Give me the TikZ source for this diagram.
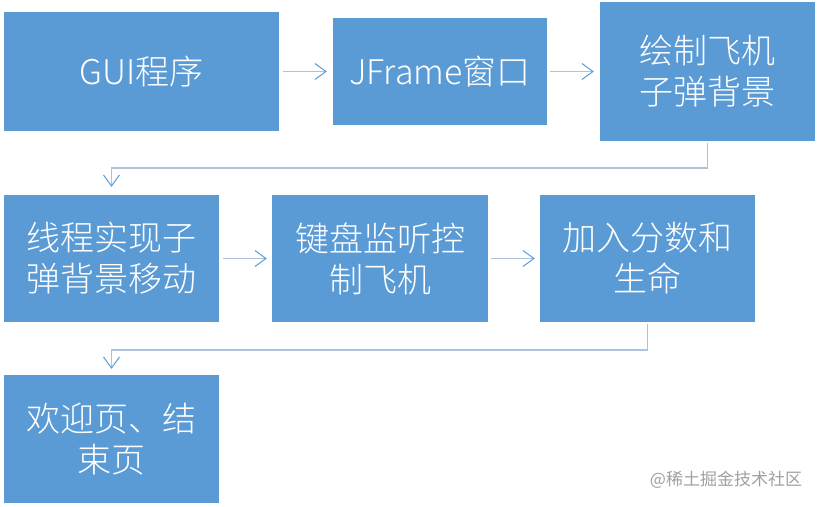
\documentclass[tikz,border=0pt]{standalone}
\usepackage{fontspec}
\usetikzlibrary{arrows.meta}
\newfontfamily\cjkfont{Noto Sans CJK SC}[UprightFont={* Light}]
\newfontfamily\markfont{Noto Sans CJK SC}
\definecolor{boxblue}{HTML}{5B9BD5}
\definecolor{linkline}{HTML}{ADC3DD}
\definecolor{marktext}{HTML}{A0A0A0}
\begin{document}
\begin{tikzpicture}[x=1pt,y=-1pt,
  stepbox/.style={fill=boxblue,draw=none,text=white,align=center,inner sep=0pt,
    font=\cjkfont\fontsize{34}{41}\selectfont},
  link/.style={draw=linkline,line width=1.4pt,
    -{Straight Barb[length=11pt,width=16pt,line width=1pt,color=boxblue]}}]
\useasboundingbox (0,0) rectangle (819,506);
% row 1
\node[stepbox,minimum width=275pt,minimum height=119pt] (b1) at (141.5,71.5) {GUI程序};
\node[stepbox,minimum width=214pt,minimum height=107pt] (b2) at (440,71.5) {JFrame窗口};
\node[stepbox,minimum width=215pt,minimum height=139pt] (b3) at (707.5,71.5) {绘制飞机\\子弹背景};
% row 2
\node[stepbox,minimum width=215pt,minimum height=127pt] (b4) at (111.5,258.5) {线程实现子\\弹背景移动};
\node[stepbox,minimum width=216pt,minimum height=127pt] (b5) at (380,258.5) {键盘监听控\\制飞机};
\node[stepbox,minimum width=215pt,minimum height=127pt] (b6) at (647.5,258.5) {加入分数和\\生命};
% row 3
\node[stepbox,minimum width=215pt,minimum height=128pt] (b7) at (111.5,439) {欢迎页、结\\束页};
% bends
\coordinate (m1) at (400,168);
\coordinate (m2) at (400,350);
% connectors
\draw[link,shorten <=4pt,shorten >=6pt] (b1) -- (b2);
\draw[link,shorten <=3pt,shorten >=6pt] (b2) -- (b3.west |- b2);
\draw[link,shorten <=4pt,shorten >=5pt] (b4) -- (b5);
\draw[link,shorten <=3pt,shorten >=5pt] (b5) -- (b6);
\draw[link,shorten <=2pt,shorten >=8pt] (b3.south) -- (b3.south |- m1) -- (m1 -| b4.north) -- (b4.north);
\draw[link,shorten <=2pt,shorten >=6pt] (b6.south) -- (b6.south |- m2) -- (m2 -| b7.north) -- (b7.north);
% watermark
\node[text=marktext,font=\markfont\fontsize{17}{20}\selectfont,inner sep=0pt] (wm) at (726,480) {@稀土掘金技术社区};
\end{tikzpicture}
\end{document}
